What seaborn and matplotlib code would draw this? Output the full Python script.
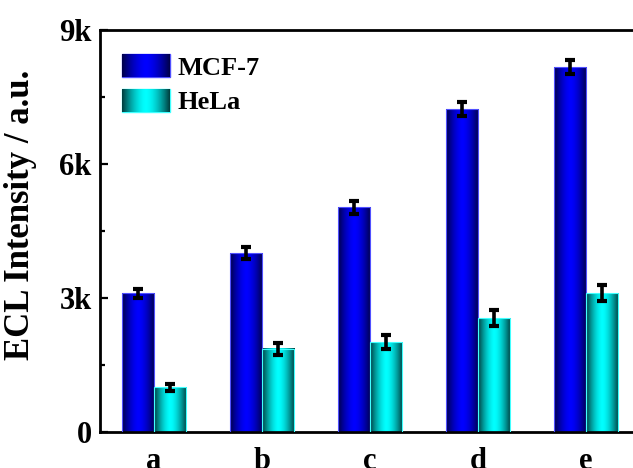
import numpy as np
import pandas as pd
import matplotlib
matplotlib.use("Agg")
import matplotlib.pyplot as plt
import seaborn as sns
from matplotlib.colors import LinearSegmentedColormap
from matplotlib.patches import Rectangle
from matplotlib.ticker import MultipleLocator

# values
samples = ["a", "b", "c", "d", "e"]
mcf7 = [3100, 4000, 5030, 7230, 8170]
mcf7_err = [90, 130, 140, 165, 150]
hela = [1000, 1860, 2010, 2550, 3110]
hela_err = [80, 130, 150, 180, 180]
cells = ["MCF-7", "HeLa"]

df = pd.DataFrame({
    "sample": samples * 2,
    "intensity": mcf7 + hela,
    "cell": [cells[0]] * len(samples) + [cells[1]] * len(samples),
})
errs = {"MCF-7": mcf7_err, "HeLa": hela_err}

sns.set_theme(style="ticks")
plt.rcParams["font.family"] = ["Liberation Serif", "DejaVu Serif"]
plt.rcParams["font.weight"] = "bold"
plt.rcParams["text.color"] = "black"
plt.rcParams["axes.labelcolor"] = "black"

palette = {"MCF-7": "#0000ee", "HeLa": "#00eeee"}
edges = {"MCF-7": "#5050ff", "HeLa": "#40ffff"}
cmaps = {
    "MCF-7": LinearSegmentedColormap.from_list("b", ["#000048", "#0000ff"]),
    "HeLa": LinearSegmentedColormap.from_list("c", ["#003c3c", "#00ffff"]),
}
t = np.linspace(0, 1, 200)
grad = (1 - np.abs(2 * t - 1) ** 1.6).reshape(1, -1)

fig = plt.figure(figsize=(6.33, 4.68), dpi=100)
ax = fig.add_axes([0.158, 0.077, 0.853, 0.859])

sns.barplot(data=df, x="sample", y="intensity", hue="cell", hue_order=cells,
            palette=palette, errorbar=None, width=0.6, gap=0, ax=ax, legend=False)

# gradient shading + error bars
for cell, cont in zip(cells, ax.containers):
    xs, ys = [], []
    for bar in cont:
        x0, w, h = bar.get_x(), bar.get_width(), bar.get_height()
        ax.imshow(grad, extent=[x0, x0 + w, 0, h], aspect="auto",
                  cmap=cmaps[cell], vmin=0, vmax=1, zorder=2.5)
        bar.set_facecolor("none")
        bar.set_edgecolor(edges[cell])
        bar.set_linewidth(0.8)
        bar.set_zorder(3)
        xs.append(x0 + w / 2)
        ys.append(h)
    ax.errorbar(xs, ys, yerr=errs[cell], fmt="none", ecolor="black",
                elinewidth=2.6, capsize=3.8, capthick=3, zorder=4)

ax.set_xlim(-0.5, 4.5)
ax.set_ylim(0, 9000)
ax.set_yticks([0, 3000, 6000, 9000])
ax.set_yticklabels(["0", "3k", "6k", "9k"])
ax.yaxis.set_minor_locator(MultipleLocator(1500))

for s in ["left", "bottom", "top"]:
    ax.spines[s].set_linewidth(2)
    ax.spines[s].set_color("black")
ax.spines["right"].set_visible(False)

ax.tick_params(axis="y", which="major", direction="in", length=6, width=1.6,
               labelsize=22, pad=6, colors="black")
ax.tick_params(axis="y", which="minor", direction="in", length=3.5, width=1.6,
               colors="black")
ax.tick_params(axis="x", length=0, labelsize=22, pad=11, colors="black")

ax.set_xlabel("")
ax.set_ylabel("ECL Intensity / a.u.", fontsize=25, fontweight="bold")
ax.yaxis.set_label_coords(-0.116, 0.54)

handles = [Rectangle((0, 0), 1, 1, facecolor=palette[c], edgecolor=edges[c]) for c in cells]
leg = ax.legend(handles, cells, loc="upper left", bbox_to_anchor=(0.041, 0.94),
                frameon=False, prop={"weight": "bold", "size": 19},
                handlelength=1.8, handleheight=0.95, handletextpad=0.3,
                labelspacing=0.35, borderaxespad=0, borderpad=0,
                labelcolor="black")

# gradient on the legend swatches
fig.canvas.draw()
renderer = fig.canvas.get_renderer()
inv = fig.transFigure.inverted()
for cell, h in zip(cells, leg.legend_handles):
    bb = h.get_window_extent(renderer).transformed(inv)
    hax = fig.add_axes([bb.x0, bb.y0, bb.width, bb.height])
    hax.imshow(grad, aspect="auto", cmap=cmaps[cell], vmin=0, vmax=1)
    hax.set_axis_off()

fig.savefig("out.png", dpi=100)
